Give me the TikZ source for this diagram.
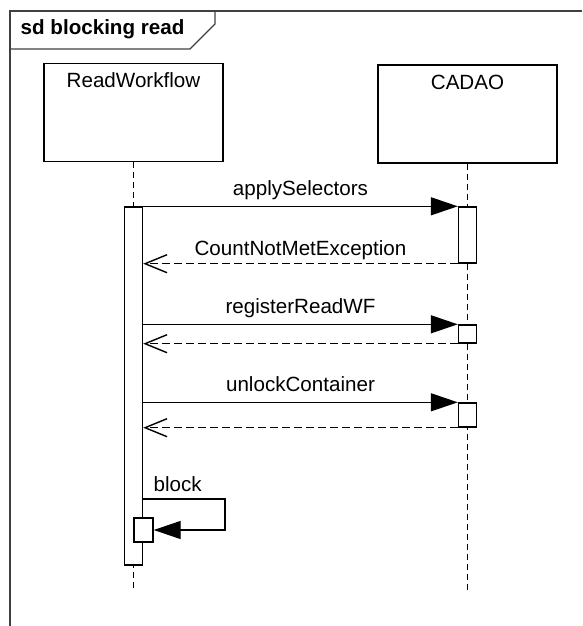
\documentclass[tikz,border=0pt]{standalone}
\usepackage{fontspec}
\setmainfont{Liberation Sans}
\usetikzlibrary{arrows.meta,calc}
\begin{document}
\begin{tikzpicture}[x=1pt,y=-1pt,
  line width=1.4pt,
  every node/.style={font=\fontsize{20.6}{24}\selectfont},
  headbox/.style={draw, minimum width=179pt, minimum height=98pt, inner sep=0pt},
  actbox/.style={draw, fill=white, minimum width=18pt, inner sep=0pt},
  lifeline/.style={dash pattern=on 6pt off 4pt},
  call/.style={-{Triangle[length=27pt,width=18pt]}},
  reply/.style={dash pattern=on 8pt off 4pt, -{Straight Barb[length=22pt,width=18pt]}},
  msg/.style={anchor=base, inner sep=0pt},
  framecol/.style={draw=black!75}
]
\useasboundingbox (0,0) rectangle (582,626);
% frame
\begin{scope}
\clip (0,0) rectangle (582,626);
\draw[framecol] (582,11) -- (10,11) -- (10,626);
\end{scope}
\draw[framecol] (10,49) -- (190,49) -- (215,24) -- (215,11);
\node[anchor=base west, inner sep=0pt, font=\fontsize{20.6}{24}\selectfont\bfseries] (title) at (20,35) {sd blocking read};
% heads
\node[headbox] (rw) at (133.5,112.5) {};
\node[msg] (rwname) at (133.5,88) {ReadWorkflow};
\node[headbox] (ca) at (467.5,114) {};
\node[msg] (caname) at (467.5,89) {CADAO};
\coordinate (lend) at (0,592);
\draw[lifeline] (rw.south) -- (rw.south |- lend);
\draw[lifeline] (ca.south) -- (ca.south |- lend);
% activations
\node[actbox, minimum height=358pt] (rwact) at (133.5,386) {};
\node[actbox, minimum height=56pt] (c1) at (467.5,235) {};
\node[actbox, minimum height=18pt] (c2) at (467.5,334) {};
\node[actbox, minimum height=24pt] (c3) at (467.5,415) {};
\node[actbox, minimum width=19pt, minimum height=24pt] (bact) at (143.5,530) {};
% messages
\draw[call] (rwact.east |- c1.north) -- node[msg, yshift=11pt] (m1) {applySelectors} (c1.north west);
\draw[reply] (c1.south west) -- node[msg, yshift=8pt] (m2) {CountNotMetException} (rwact.east |- c1.south);
\draw[call] (rwact.east |- c2.north) -- node[msg, yshift=11pt] (m3) {registerReadWF} (c2.north west);
\draw[reply] (c2.south west) -- (rwact.east |- c2.south);
\draw[call] (rwact.east |- c3.north) -- node[msg, yshift=11pt] (m4) {unlockContainer} (c3.north west);
\draw[reply] (c3.south west) -- (rwact.east |- c3.south);
\coordinate (bk) at (225,499);
\draw[call] (rwact.east |- bk) -- (bk) -- (bk |- bact.east) -- (bact.east);
\node[anchor=base west, inner sep=0pt] (m5) at (153,491) {block};
\end{tikzpicture}
\end{document}
